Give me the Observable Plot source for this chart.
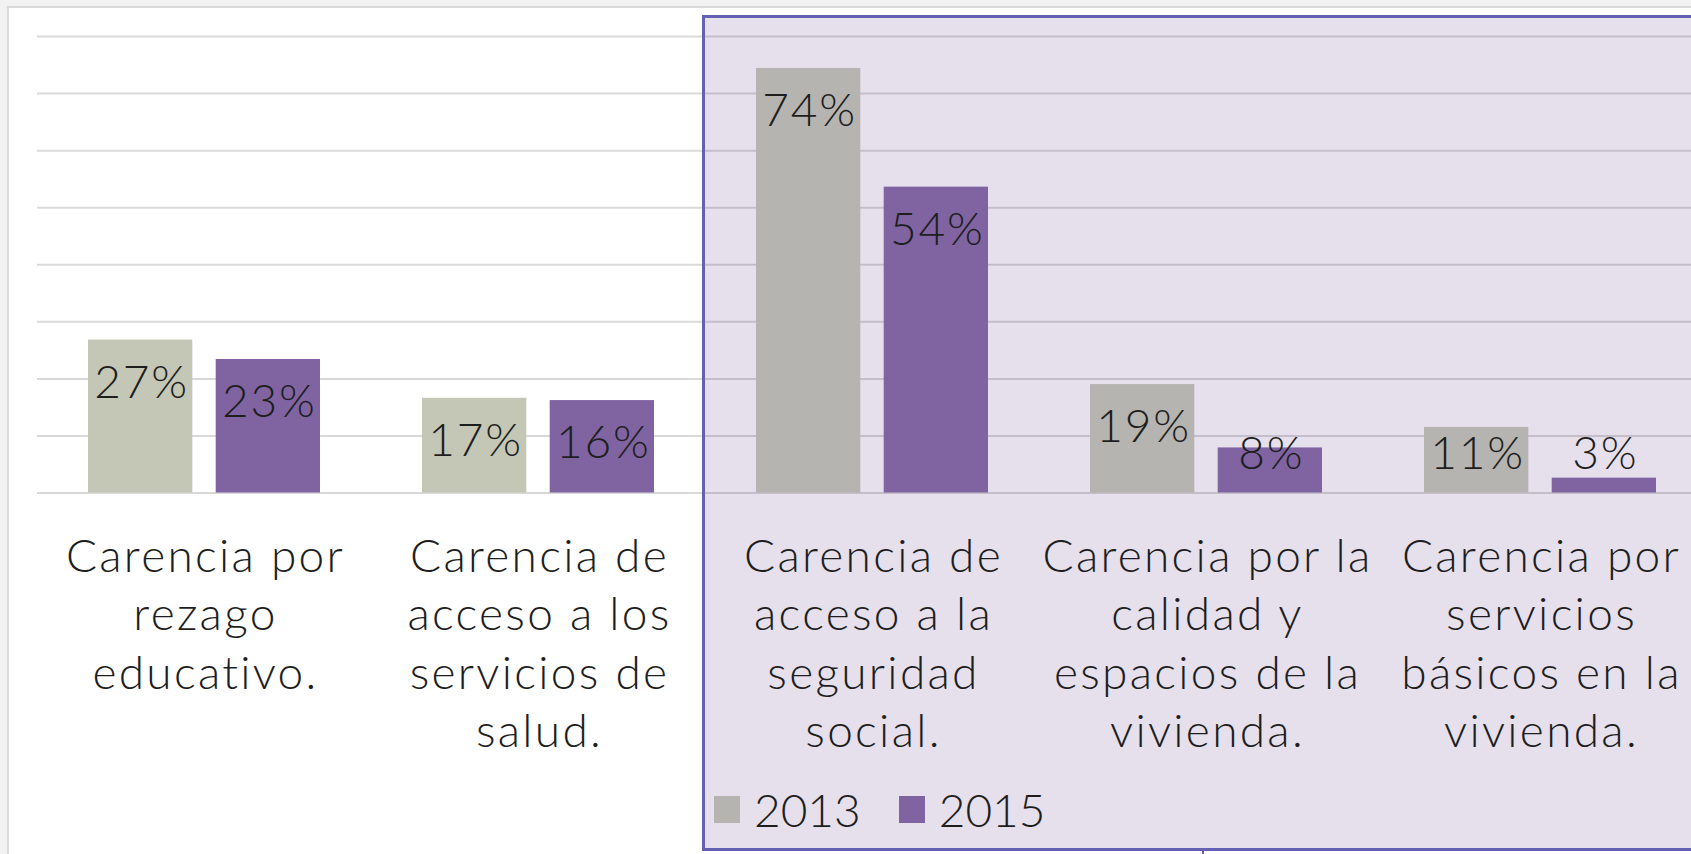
<!DOCTYPE html>
<html>
<head>
<meta charset="utf-8">
<script src="https://cdn.jsdelivr.net/npm/d3@7"></script>
<script src="https://cdn.jsdelivr.net/npm/@observablehq/plot@0.6"></script>
<style>
  html, body { margin: 0; padding: 0; width: 1691px; height: 854px; overflow: hidden; background: #f2f2f2; }
  #card { position: absolute; left: 7px; top: 6px; width: 1800px; height: 900px; background: #ffffff; border: 2px solid #d9d9d9; box-sizing: border-box; }
  #boxfill { position: absolute; left: 702px; top: 15px; width: 1100px; height: 836px; background: #e6e0ed; }
  #boxborder { position: absolute; left: 702px; top: 15px; width: 1100px; height: 836px; border: 3px solid #6461b4; box-sizing: border-box; pointer-events: none; }
  #tick { position: absolute; left: 1202px; top: 850px; width: 2px; height: 6px; background: #7a5aa8; }
  #chart { position: absolute; left: 0; top: 0; }
  #chart g[aria-label="x-axis tick label"] text { letter-spacing: 2.3px; }
  #chart g[aria-label="text"] text { letter-spacing: 1.8px; }
  #legend { position: absolute; left: 714px; top: 786px; height: 46px; display: flex; align-items: center;
            font-family: Lato, "Open Sans", sans-serif; font-weight: 300; font-size: 46px; color: #1e1e1e; white-space: nowrap; }
  #legend .sw { display: inline-block; width: 26px; height: 27px; margin-right: 14px; }
  #legend .item { display: flex; align-items: center; margin-right: 38px; }
</style>
</head>
<body>
<div id="card"></div>
<div id="boxfill"></div>
<div id="chart"></div>
<div id="legend"></div>
<div id="boxborder"></div>
<div id="tick"></div>
<script>
const categories = [
  "Carencia por rezago educativo.",
  "Carencia de acceso a los servicios de salud.",
  "Carencia de acceso a la seguridad social.",
  "Carencia por la calidad y espacios de la vivienda.",
  "Carencia por servicios básicos en la vivienda."
];
const tickLabels = [
  "Carencia por\nrezago\neducativo.",
  "Carencia de\nacceso a los\nservicios de\nsalud.",
  "Carencia de\nacceso a la\nseguridad\nsocial.",
  "Carencia por la\ncalidad y\nespacios de la\nvivienda.",
  "Carencia por\nservicios\nbásicos en la\nvivienda."
];
const highlighted = [
  "Carencia de acceso a la seguridad social.",
  "Carencia por la calidad y espacios de la vivienda.",
  "Carencia por servicios básicos en la vivienda."
];
const years = ["2013", "2015"];
const values2013 = [26.8, 16.6, 74.4, 19.0, 11.5];
const values2015 = [23.4, 16.2, 53.6, 7.9, 2.6];
const labels2013 = ["27%", "17%", "74%", "19%", "11%"];
const labels2015 = ["23%", "16%", "54%", "8%", "3%"];
const yTicks = [0, 10, 20, 30, 40, 50, 60, 70, 80];

const color2013 = "#c4c7b5";
const color2013Box = "#b5b4b0";
const color2015 = "#8064a2";
const textColor = "#1e1e1e";
const font = "Lato, 'Open Sans', sans-serif";

const rows2013 = categories.map((c, i) => ({cat: c, year: years[0], v: values2013[i], label: labels2013[i]}));
const rows2015 = categories.map((c, i) => ({cat: c, year: years[1], v: values2015[i], label: labels2015[i]}));
const tickMap = new Map(categories.map((c, i) => [c, tickLabels[i]]));

// layout constants (style)
const bandW = 231.7, barW = 104;
const inset = bandW - barW;
const off = bandW / 2 - barW / 2;
const labelFloor = 14.4; // keep labels above the baseline zone

const fill2013 = d => highlighted.includes(d.cat) ? color2013Box : color2013;

const plot = Plot.plot({
  width: 1710,
  height: 854,
  marginLeft: 37,
  marginRight: 3,
  marginTop: 36,
  marginBottom: 361.5,
  style: {background: "transparent", maxWidth: "none", overflow: "visible", fontFamily: font},
  x: {domain: categories, range: [37, 1707], paddingInner: 0.3063, paddingOuter: 0.153, axis: null},
  y: {domain: [0, 80], range: [492.5, 36], axis: null},
  marks: [
    Plot.ruleY(yTicks, {stroke: "#000", strokeOpacity: 0.15, strokeWidth: 2}),
    Plot.barY(rows2013, {x: "cat", y: "v", fill: fill2013, insetRight: inset}),
    Plot.barY(rows2015, {x: "cat", y: "v", fill: color2015, insetLeft: inset}),
    Plot.text(rows2013, {x: "cat", y: d => Math.max(d.v, labelFloor), text: "label", dx: -off + 1, dy: 43,
      fontSize: 46, fontWeight: 300, fill: textColor, fontFamily: font}),
    Plot.text(rows2015, {x: "cat", y: d => Math.max(d.v, labelFloor), text: "label", dx: off + 1, dy: 43,
      fontSize: 46, fontWeight: 300, fill: textColor, fontFamily: font}),
    Plot.axisX({anchor: "bottom", tickSize: 0, tickPadding: 37.5, tickFormat: d => tickMap.get(d), dx: 1,
      fontSize: 46, fontWeight: 300, lineHeight: 1.268, fill: textColor, fontFamily: font, label: null})
  ]
});
document.getElementById("chart").appendChild(plot);

const legend = document.getElementById("legend");
const legendColors = [color2013Box, color2015];
years.forEach((y, i) => {
  const item = document.createElement("span");
  item.className = "item";
  const sw = document.createElement("span");
  sw.className = "sw";
  sw.style.background = legendColors[i];
  item.appendChild(sw);
  item.appendChild(document.createTextNode(y));
  legend.appendChild(item);
});
</script>
</body>
</html>
